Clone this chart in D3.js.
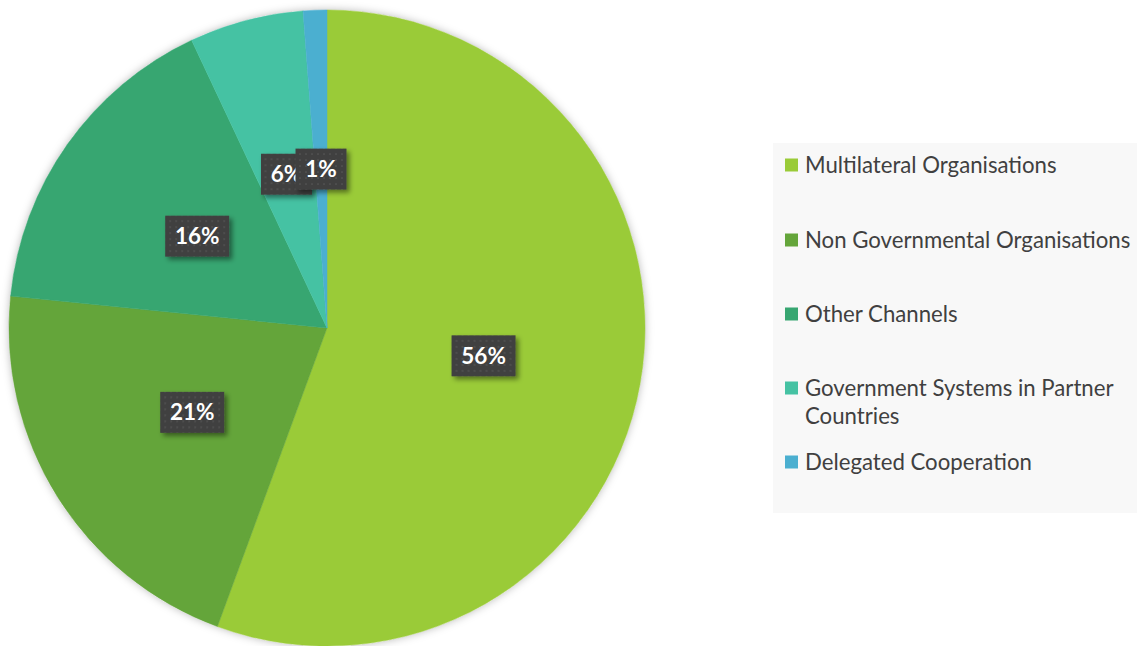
<!DOCTYPE html>
<html><head><meta charset="utf-8">
<script src="https://cdn.jsdelivr.net/npm/d3@7"></script>
<style>html,body{margin:0;padding:0;background:#fff;}svg{display:block;}</style>
</head><body>
<svg id="chart" width="1137" height="646"></svg>
<script>
const categories = ["Multilateral Organisations","Non Governmental Organisations","Other Channels","Government Systems in Partner Countries","Delegated Cooperation"];
const values = [55.6, 21.0, 16.4, 5.8, 1.2];
const labels = ["56%","21%","16%","6%","1%"];
const colors = ["#9ACB38","#64A53A","#37A671","#45C2A3","#4BAFD0"];
const legendLines = [["Multilateral Organisations"],["Non Governmental Organisations"],["Other Channels"],["Government Systems in Partner","Countries"],["Delegated Cooperation"]];

const svg = d3.select("#chart");
const defs = svg.append("defs");
const f1 = defs.append("filter").attr("id","pieShadow").attr("x","-10%").attr("y","-10%").attr("width","120%").attr("height","120%");
f1.append("feDropShadow").attr("dx",0).attr("dy",0).attr("stdDeviation",4).attr("flood-color","#000").attr("flood-opacity",0.28);
const f2 = defs.append("filter").attr("id","boxShadow").attr("x","-20%").attr("y","-20%").attr("width","150%").attr("height","160%");
f2.append("feDropShadow").attr("dx",3).attr("dy",3).attr("stdDeviation",2.5).attr("flood-color","#000").attr("flood-opacity",0.45);
const pat = defs.append("pattern").attr("id","dots").attr("width",6).attr("height",6).attr("patternUnits","userSpaceOnUse");
pat.append("rect").attr("width",6).attr("height",6).attr("fill","#404040");
pat.append("rect").attr("x",2).attr("y",2).attr("width",2).attr("height",2).attr("fill","#4d4d4d");

const cx = 327, cy = 328, r = 318;
const pie = d3.pie().sort(null).value(d => d)(values);
const arc = d3.arc().innerRadius(0).outerRadius(r);
const g = svg.append("g").attr("transform",`translate(${cx},${cy})`);
g.append("circle").attr("r",r).attr("fill","#fff").attr("filter","url(#pieShadow)");
g.selectAll("path.slice").data(pie).join("path").attr("class","slice")
  .attr("d",arc).attr("fill",(d,i)=>colors[i]).attr("stroke",(d,i)=>colors[i]).attr("stroke-width",0.5);

const lbl = g.selectAll("g.lbl").data(pie).join("g").attr("class","lbl")
  .attr("transform",d=>{const c=arc.centroid(d);return `translate(${c[0]},${c[1]})`;});
lbl.each(function(d,i){
  const s = d3.select(this);
  const w = labels[i].length===3 ? 64 : 51, h = 41;
  s.append("rect").attr("x",-w/2).attr("y",-h/2).attr("width",w).attr("height",h)
    .attr("fill","url(#dots)").attr("filter","url(#boxShadow)");
  s.append("text").attr("text-anchor","middle").attr("dy","0.36em")
    .attr("font-family","Lato, 'Open Sans', sans-serif").attr("font-weight","bold")
    .attr("font-size",22.5).attr("fill","#fff").text(labels[i]);
});

// Legend
const lg = svg.append("g");
lg.append("rect").attr("x",773).attr("y",143).attr("width",364).attr("height",370).attr("fill","#f8f8f8");
const itemY = [165, 240, 314, 388, 462];
categories.forEach((c,i)=>{
  lg.append("rect").attr("x",785).attr("y",itemY[i]-6.5).attr("width",13).attr("height",13).attr("fill",colors[i]);
  const t = lg.append("text").attr("x",805).attr("y",itemY[i])
    .attr("font-family","Lato, 'Open Sans', sans-serif").attr("font-size",22.2).attr("fill","#404040");
  legendLines[i].forEach((ln,j)=>{
    t.append("tspan").attr("x",805).attr("dy", j===0 ? "0.35em" : "28px").text(ln);
  });
});
</script>
</body></html>
